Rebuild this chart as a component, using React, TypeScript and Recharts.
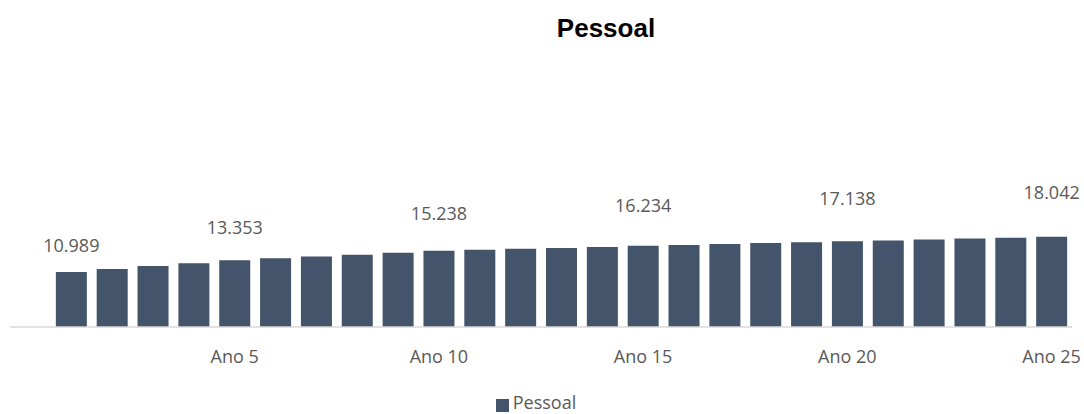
import { BarChart, Bar, XAxis, YAxis, Legend, LabelList } from 'recharts';

// categories: first slot is an empty "Ano 0" gap, as in the source chart
const anos = ['', 'Ano 1', 'Ano 2', 'Ano 3', 'Ano 4', 'Ano 5', 'Ano 6', 'Ano 7', 'Ano 8', 'Ano 9', 'Ano 10',
  'Ano 11', 'Ano 12', 'Ano 13', 'Ano 14', 'Ano 15', 'Ano 16', 'Ano 17', 'Ano 18', 'Ano 19', 'Ano 20',
  'Ano 21', 'Ano 22', 'Ano 23', 'Ano 24', 'Ano 25'];

const pessoal = [null, 10.989, 11.62, 12.2, 12.75, 13.353, 13.74, 14.12, 14.47, 14.84, 15.238,
  15.44, 15.63, 15.82, 16.02, 16.234, 16.41, 16.6, 16.78, 16.95, 17.138,
  17.32, 17.5, 17.68, 17.86, 18.042];

// only these years get a value label
const labeledAnos = ['Ano 1', 'Ano 5', 'Ano 10', 'Ano 15', 'Ano 20', 'Ano 25'];

const data = anos.map((ano, i) => ({
  ano,
  pessoal: pessoal[i],
  rotulo: labeledAnos.includes(ano) ? pessoal[i] : null,
}));

const BAR = '#44546A';
const TXT = '#595959';
const FONT = '"Open Sans", sans-serif';

const fmt = (v: number) => v.toFixed(3);

const ValueLabel = (props: any) => {
  const { x, y, width, height, value } = props;
  if (value == null) return null;
  return (
    <text
      x={x + width / 2}
      y={y - height * 0.5}
      textAnchor="middle"
      dominantBaseline="central"
      fill={TXT}
      fontSize={18}
      fontFamily={FONT}
    >
      {fmt(value)}
    </text>
  );
};

export default function App() {
  return (
    <div style={{ position: 'absolute', left: 0, top: 0, width: 1084, height: 414, background: '#fff' }}>
      <div
        style={{
          position: 'absolute',
          left: 0,
          width: 1212,
          top: 13,
          textAlign: 'center',
          fontFamily: '"Liberation Sans", Arial, sans-serif',
          fontWeight: 'bold',
          fontSize: 26,
          color: '#000',
        }}
      >
        Pessoal
      </div>
      <BarChart width={1084} height={414} data={data} margin={{ top: 127, right: 12, left: 10, bottom: 0 }}>
        <XAxis
          dataKey="ano"
          interval={4}
          tickLine={false}
          axisLine={{ stroke: '#D9D9D9', strokeWidth: 1.5 }}
          tick={{ fill: TXT, fontSize: 18, fontFamily: FONT }}
          tickMargin={17}
          height={63}
        />
        <YAxis hide domain={[0, 40]} />
        <Legend
          verticalAlign="bottom"
          align="center"
          iconType="square"
          iconSize={13}
          formatter={(v: string) => <span style={{ color: TXT, fontSize: 18, fontFamily: FONT }}>{v}</span>}
        />
        <Bar dataKey="pessoal" name="Pessoal" fill={BAR} barSize={31} isAnimationActive={false}>
          <LabelList dataKey="rotulo" content={<ValueLabel />} />
        </Bar>
      </BarChart>
    </div>
  );
}
